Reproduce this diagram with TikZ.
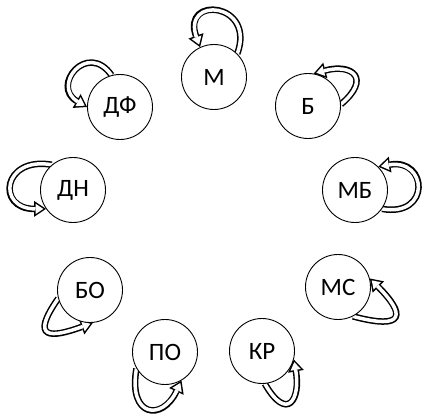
\documentclass[tikz,border=0pt]{standalone}
\usepackage{fontspec}
\setmainfont{Carlito}
\usetikzlibrary{arrows.meta,backgrounds}
\tikzset{
  nd/.style={circle, draw, fill=white, line width=0.9pt, minimum size=65pt, inner sep=0pt, font=\fontsize{25}{28}\selectfont},
  lp/.style={line width=6.5pt, -{Triangle[length=12pt,width=16pt,line width=0pt]},
    postaction={draw=white, line width=3.5pt, shorten >=2.7pt, -{Triangle[length=7.8pt,width=10.4pt,line width=0pt]}}}
}
\begin{document}
\begin{tikzpicture}[x=1pt,y=1pt]
\useasboundingbox (0,0) rectangle (425,414);
\node[nd] (m)  at (214,337) {М};
\node[nd] (b)  at (308,308) {Б};
\node[nd] (mb) at (355,224) {МБ};
\node[nd] (ms) at (338,127) {МС};
\node[nd] (kr) at (262,63)  {КР};
\node[nd] (po) at (165,62)  {ПО};
\node[nd] (bo) at (90,124)  {БО};
\node[nd] (dn) at (73,224)  {ДН};
\node[nd] (df) at (120,307) {ДФ};
\begin{pgfonlayer}{background}
\draw[lp] (m.45) .. controls +(70:55) and +(110:55) .. (m.115);
\draw[lp] (b.3) .. controls +(40:40) and +(15:40) .. (b.80);
\draw[lp] (mb.-35) .. controls +(-10:50) and +(10:50) .. (mb.45);
\draw[lp] (ms.-63) .. controls +(-15:55) and +(-45:50) .. (ms.15);
\draw[lp] (kr.-85) .. controls +(-60:45) and +(-80:40) .. (kr.-15);
\draw[lp] (po.-150) .. controls +(-100:50) and +(-115:45) .. (po.-60);
\draw[lp] (bo.-165) .. controls +(-125:50) and +(-160:45) .. (bo.-85);
\draw[lp] (dn.130) .. controls +(170:50) and +(180:50) .. (dn.-145);
\draw[lp] (df.105) .. controls +(125:42) and +(150:42) .. (df.180);
\end{pgfonlayer}
\end{tikzpicture}
\end{document}
